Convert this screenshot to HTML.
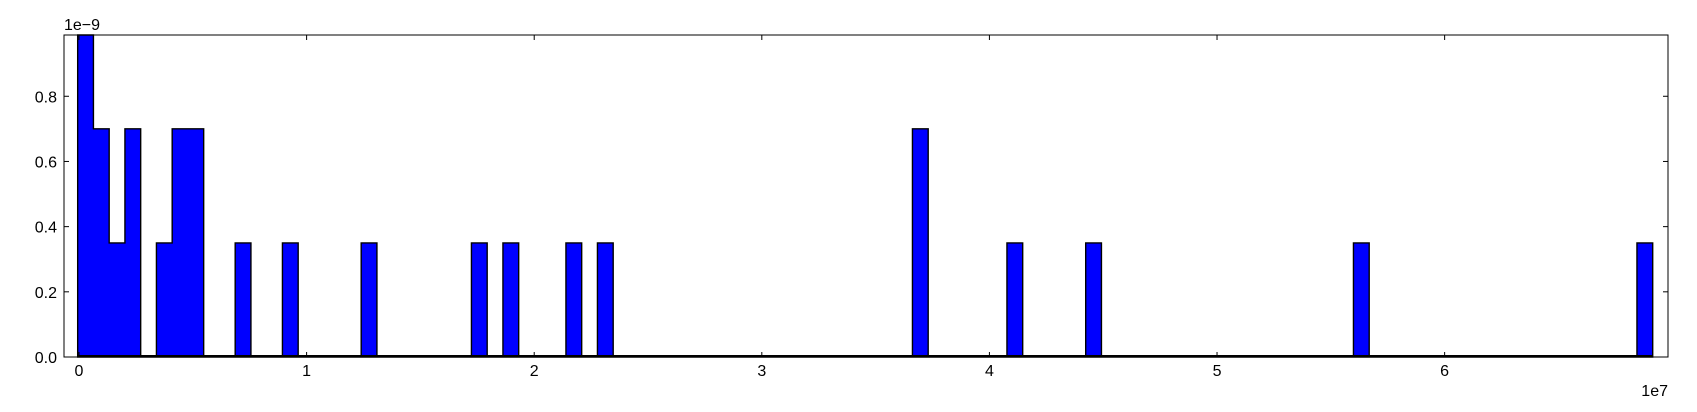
<!DOCTYPE html>
<html><head><meta charset="utf-8"><style>
html,body{margin:0;padding:0;background:#fff;}
svg text{font-family:"Liberation Sans",sans-serif;font-size:16px;fill:#000;}
</style></head><body>
<svg id="chart" width="1697" height="407" viewBox="0 0 1697 407" xmlns="http://www.w3.org/2000/svg">
<rect x="0" y="0" width="1697" height="407" fill="#fff"/>
<g id="marks"></g>
<g id="axes"></g>
</svg>
<script>
// data (x in units of 1e7, y in units of 1e-9)
const binStart = -0.0058;
const binWidth = 0.0692;
const binIndices = [0,1,2,3,5,6,7,10,13,18,25,27,31,33,53,59,64,81,99];
const binValues = [0.988,0.7,0.35,0.7,0.35,0.7,0.7,0.35,0.35,0.35,0.35,0.35,0.35,0.35,0.7,0.35,0.35,0.35,0.35];
const xTicks = [0,1,2,3,4,5,6];
const xTickLabels = ["0","1","2","3","4","5","6"];
const yTicks = [0,0.2,0.4,0.6,0.8];
const yTickLabels = ["0.0","0.2","0.4","0.6","0.8"];
const nBins = 100;

const L=64,R=1668,T=35,B=357;
const xMin=-0.0659,xMax=6.9814,yMin=0,yMax=0.988;
const sx=v=>L+(v-xMin)/(xMax-xMin)*(R-L);
const sy=v=>B-(v-yMin)/(yMax-yMin)*(B-T);
const NS="http://www.w3.org/2000/svg";
const marks=document.getElementById('marks');
const axes=document.getElementById('axes');

const heights=new Array(nBins).fill(0);
binIndices.forEach((b,i)=>{heights[b]=binValues[i];});
let d=`M${sx(binStart)},${sy(0)}`;
for(let i=0;i<nBins;i++){
  const x0=sx(binStart+i*binWidth),x1=sx(binStart+(i+1)*binWidth);
  d+=` L${x0},${sy(heights[i])} L${x1},${sy(heights[i])}`;
}
d+=` L${sx(binStart+nBins*binWidth)},${sy(0)} Z`;
const p=document.createElementNS(NS,'path');
p.setAttribute('d',d);
p.setAttribute('fill','#0000ff');
p.setAttribute('stroke','#000');
p.setAttribute('stroke-width','1.4');
p.setAttribute('stroke-linejoin','miter');


marks.appendChild(p);
const bl=document.createElementNS(NS,'line');
bl.setAttribute('x1',sx(binStart));bl.setAttribute('x2',sx(binStart+nBins*binWidth));
bl.setAttribute('y1',B-1);bl.setAttribute('y2',B-1);
bl.setAttribute('stroke','#000');bl.setAttribute('stroke-width','2');


marks.appendChild(bl);

const fr=document.createElementNS(NS,'rect');
fr.setAttribute('x',L);fr.setAttribute('y',T);fr.setAttribute('width',R-L);fr.setAttribute('height',B-T);
fr.setAttribute('fill','none');fr.setAttribute('stroke','#000');fr.setAttribute('stroke-width','1');


axes.appendChild(fr);

function ln(x1,y1,x2,y2,name){
  const l=document.createElementNS(NS,'line');
  l.setAttribute('x1',x1);l.setAttribute('y1',y1);l.setAttribute('x2',x2);l.setAttribute('y2',y2);
  l.setAttribute('stroke','#000');l.setAttribute('stroke-width','1');
  
  
  axes.appendChild(l);
}
function tx(x,y,s,anchor,name){
  const t=document.createElementNS(NS,'text');
  t.setAttribute('x',x);t.setAttribute('y',y);t.setAttribute('text-anchor',anchor);
  t.textContent=s;
  
  
  axes.appendChild(t);
}
xTicks.forEach((v,i)=>{
  const x=sx(v);
  ln(x,B,x,B-5,'x-tick');
  ln(x,T,x,T+5,'x-tick-top');
  tx(x,B+19,xTickLabels[i],'middle','x-tick-label');
});
yTicks.forEach((v,i)=>{
  const y=sy(v);
  ln(L,y,L+5,y,'y-tick');
  ln(R,y,R-5,y,'y-tick-right');
  tx(L-7,y+6,yTickLabels[i],'end','y-tick-label');
});
tx(L,T-5,'1e\u22129','start','y-offset-label');
tx(R,B+39,'1e7','end','x-offset-label');
</script>
</body></html>
